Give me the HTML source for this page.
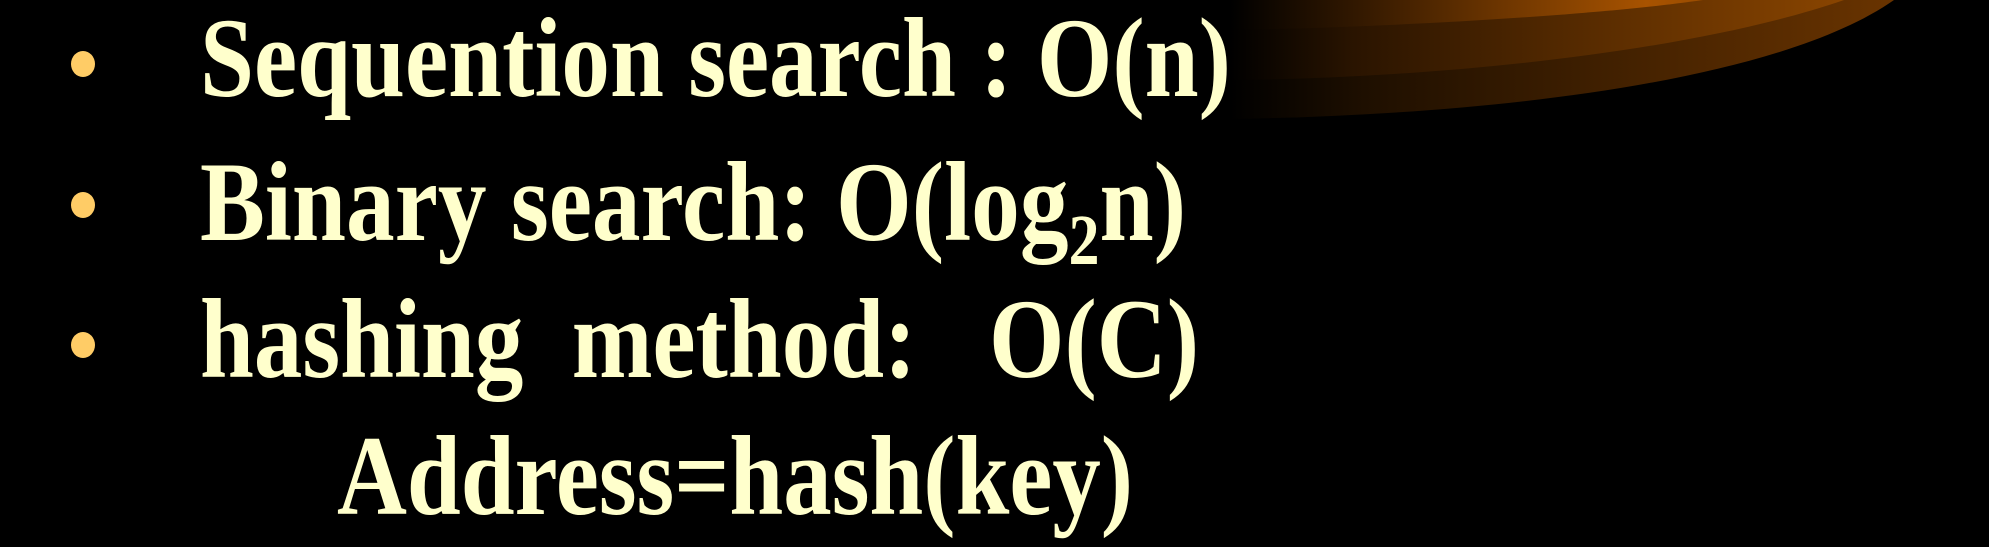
<!DOCTYPE html>
<html><head><meta charset="utf-8"><style>
html,body{margin:0;padding:0;background:#000;}
svg{display:block}
</style></head><body>
<svg width="1989" height="547" viewBox="0 0 1989 547" xmlns="http://www.w3.org/2000/svg">
<defs>
<linearGradient id="g1" gradientUnits="userSpaceOnUse" x1="1230" y1="0" x2="1900" y2="0">
<stop offset="0" stop-color="#000"/><stop offset="0.2" stop-color="#1e0f00"/><stop offset="1" stop-color="#6a3400"/></linearGradient>
<linearGradient id="g2" gradientUnits="userSpaceOnUse" x1="1230" y1="0" x2="1850" y2="0">
<stop offset="0" stop-color="#000"/><stop offset="0.2" stop-color="#2a1400"/><stop offset="1" stop-color="#8a4500"/></linearGradient>
<linearGradient id="g3" gradientUnits="userSpaceOnUse" x1="1230" y1="0" x2="1720" y2="0">
<stop offset="0" stop-color="#000"/><stop offset="0.3" stop-color="#3a1c00"/><stop offset="0.85" stop-color="#a85300"/><stop offset="1" stop-color="#964a00"/></linearGradient>
</defs>
<rect width="1989" height="547" fill="#000"/>
<path d="M1894,0 C1780,80 1500,115 1230,119 L1230,0 Z" fill="url(#g1)"/>
<path d="M1844,0 C1700,50 1450,78 1230,80 L1230,0 Z" fill="url(#g2)"/>
<path d="M1703,0 C1600,15 1400,27 1230,30 L1230,0 Z" fill="url(#g3)"/>
<g fill="#ffcc66">
<ellipse cx="83" cy="64" rx="12" ry="13"/>
<ellipse cx="83" cy="205" rx="12" ry="13"/>
<ellipse cx="83" cy="345" rx="12" ry="13"/>
</g>
<g fill="#ffffcc" font-family="'Liberation Serif', serif" font-weight="bold" font-size="113">
<text x="200" y="96" textLength="1031" lengthAdjust="spacingAndGlyphs">Sequention search : O(n)</text>
<text x="200" y="240" textLength="986" lengthAdjust="spacingAndGlyphs">Binary search: O(log<tspan font-size="72" dy="24">2</tspan><tspan dy="-24">n)</tspan></text>
<text x="200" y="377" textLength="999" lengthAdjust="spacingAndGlyphs" xml:space="preserve">hashing  method:   O(C)</text>
<text x="337" y="514" textLength="796" lengthAdjust="spacingAndGlyphs">Address=hash(key)</text>
</g>
</svg>
</body></html>
